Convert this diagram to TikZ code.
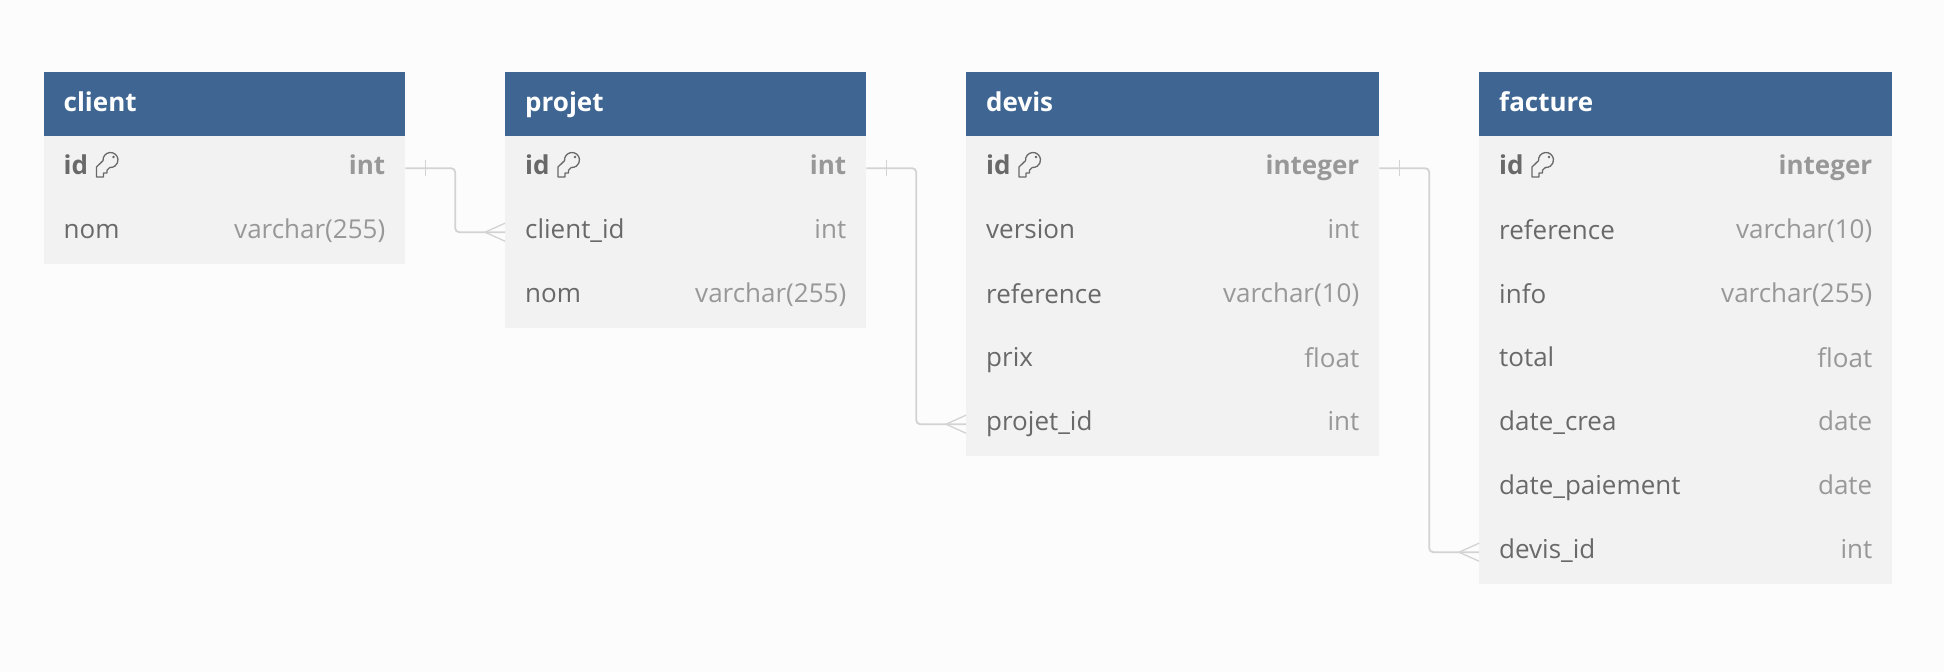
\documentclass[tikz,border=0pt]{standalone}
\usepackage{fontspec}
\setmainfont{Open Sans}
\usetikzlibrary{calc}
\definecolor{pagebg}{HTML}{FCFCFC}
\definecolor{headbg}{HTML}{3F6693}
\definecolor{rowbg}{HTML}{F2F2F2}
\definecolor{nametext}{HTML}{696969}
\definecolor{typetext}{HTML}{989898}
\definecolor{linkline}{HTML}{D3D3D3}
\tikzset{
  tablehead/.style={fill=headbg,text=white,font=\fontsize{26}{30}\selectfont\bfseries,
    minimum height=64pt,anchor=north west,align=left,inner xsep=20pt,inner ysep=0pt},
  tablerow/.style={fill=rowbg,text=nametext,font=\fontsize{26}{30}\selectfont,
    minimum height=64pt,anchor=north west,align=left,inner xsep=20pt,inner ysep=0pt},
  typelabel/.style={text=typetext,font=\fontsize{26}{30}\selectfont,anchor=east,inner xsep=20pt,inner ysep=0pt},
  link/.style={draw=linkline,line width=1.8pt,rounded corners=4pt},
  linkmark/.style={draw=linkline,line width=1.3pt}
}
% table title in its bar
\newcommand{\headtext}[1]{\vphantom{Ag}\raisebox{-1.2pt}[0pt][0pt]{#1}}
% one table row: name, x, y, width, field, type
\newcommand{\tablerowat}[6]{%
  \node[tablerow,text width=#4pt-40pt] (#1) at (#2,#3) {\vphantom{Ag}#5};
  \node[typelabel] (#1-type) at (#1.east) {\vphantom{Ag}#6};
}
% the primary key row of a table
\newcommand{\keyrowat}[5]{%
  \node[tablerow,text width=#4pt-40pt] (#1) at (#2,#3) {\vphantom{Ag}\textbf{id}};
  \node[typelabel,font=\fontsize{26}{30}\selectfont\bfseries] (#1-type) at (#1.east) {\vphantom{Ag}#5};
  \draw[nametext,line width=1.3pt,line join=round,shift={(#2+67,#3+24)}]
    (-14,17) -- (-14,7) -- (-7.47,0.65) arc[start angle=175,end angle=455,radius=7.5]
    -- (-3.5,10.3) -- (-3.5,13) -- (-7,13) -- (-7,17) -- cycle;
  \fill[nametext,shift={(#2+67,#3+24)}] (3,-3) circle (1.3);
}
% link from a key to a foreign key row
\newcommand{\linkrows}[2]{%
  \coordinate (mid) at ($(#1.east)!0.5!(#2.west)$);
  \draw[link] (#1.east) -| (mid) |- (#2.west);
  \draw[linkmark] ($(#1.east)+(20,-8)$) -- ($(#1.east)+(20,8)$);
  \draw[linkmark] ($(#2.west)+(-20,0)$) -- ($(#2.west)+(0,-9)$);
  \draw[linkmark] ($(#2.west)+(-20,0)$) -- ($(#2.west)+(0,9)$);
}

\begin{document}
\begin{tikzpicture}[x=1pt,y=-1pt]
  \useasboundingbox (0,0) rectangle (1944,672);
  \fill[pagebg] (0,0) rectangle (1944,672);

  % client
  \node[tablehead,text width=321.5pt] (client) at (43.5,72) {\headtext{client}};
  \keyrowat{client-id}{43.5}{136}{361.5}{int}
  \tablerowat{client-nom}{43.5}{200}{361.5}{nom}{varchar(255)}

  % projet
  \node[tablehead,text width=321pt] (projet) at (505,72) {\headtext{projet}};
  \keyrowat{projet-id}{505}{136}{361}{int}
  \tablerowat{projet-client}{505}{200}{361}{client\_id}{int}
  \tablerowat{projet-nom}{505}{264}{361}{nom}{varchar(255)}

  % devis
  \node[tablehead,text width=373pt] (devis) at (966,72) {\headtext{devis}};
  \keyrowat{devis-id}{966}{136}{413}{integer}
  \tablerowat{devis-version}{966}{200}{413}{version}{int}
  \tablerowat{devis-reference}{966}{264}{413}{reference}{varchar(10)}
  \tablerowat{devis-prix}{966}{328}{413}{prix}{float}
  \tablerowat{devis-projet}{966}{392}{413}{projet\_id}{int}

  % facture
  \node[tablehead,text width=373pt] (facture) at (1479,72) {\headtext{facture}};
  \keyrowat{facture-id}{1479}{136}{413}{integer}
  \tablerowat{facture-reference}{1479}{200}{413}{reference}{varchar(10)}
  \tablerowat{facture-info}{1479}{264}{413}{info}{varchar(255)}
  \tablerowat{facture-total}{1479}{328}{413}{total}{float}
  \tablerowat{facture-crea}{1479}{392}{413}{date\_crea}{date}
  \tablerowat{facture-paiement}{1479}{456}{413}{date\_paiement}{date}
  \tablerowat{facture-devis}{1479}{520}{413}{devis\_id}{int}

  \linkrows{client-id}{projet-client}
  \linkrows{projet-id}{devis-projet}
  \linkrows{devis-id}{facture-devis}
\end{tikzpicture}
\end{document}
